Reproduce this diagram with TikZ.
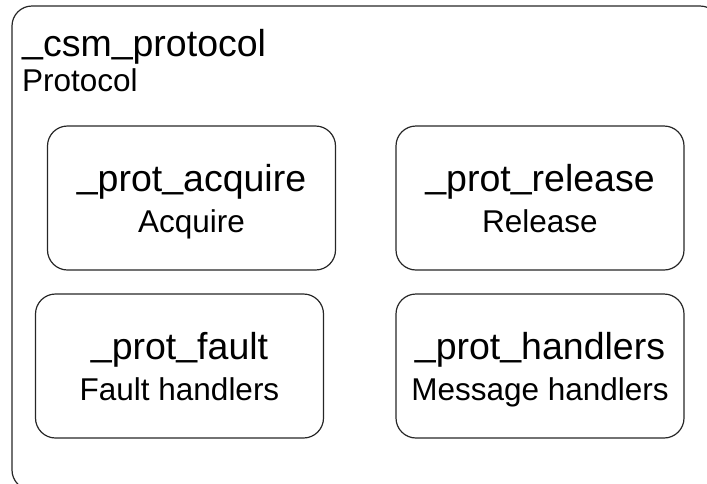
\documentclass[tikz,border=0pt]{standalone}
\usepackage{fontspec}
\setmainfont{Liberation Sans}
\newcommand\usc{\raisebox{0.1em}{\_}}
\begin{document}
\begin{tikzpicture}[x=1pt,y=-1pt,
  frame/.style={draw=black!85, line width=1.2pt, rounded corners=20pt},
  box/.style={frame, minimum width=288pt, minimum height=144pt, inner sep=0pt},
  ttl/.style={font=\fontsize{37.5}{40}\selectfont, anchor=base, inner sep=0pt},
  sub/.style={font=\fontsize{31.5}{34}\selectfont, anchor=base, inner sep=0pt}]
\useasboundingbox (0,0) rectangle (707,483);
\draw[frame] (12,6) rectangle (720,490);
\node[ttl, anchor=base west] (otitle) at (22,56) {\usc csm\usc protocol};
\node[sub, anchor=base west] (osub) at (22,91) {Protocol};
\node[box] (acq) at (191.5,198) {};
\node[box] (rel) at (540,198) {};
\node[box] (flt) at (179.5,366) {};
\node[box] (hnd) at (540,366) {};
\node[ttl] (acqt) at ([yshift=7pt]acq.center) {\usc prot\usc acquire};
\node[sub] (acqs) at ([yshift=-34pt]acq.center) {Acquire};
\node[ttl] (relt) at ([yshift=7pt]rel.center) {\usc prot\usc release};
\node[sub] (rels) at ([yshift=-34pt]rel.center) {Release};
\node[ttl] (fltt) at ([yshift=7pt]flt.center) {\usc prot\usc fault};
\node[sub] (flts) at ([yshift=-34pt]flt.center) {Fault handlers};
\node[ttl] (hndt) at ([yshift=7pt]hnd.center) {\usc prot\usc handlers};
\node[sub] (hnds) at ([yshift=-34pt]hnd.center) {Message handlers};
\end{tikzpicture}
\end{document}
